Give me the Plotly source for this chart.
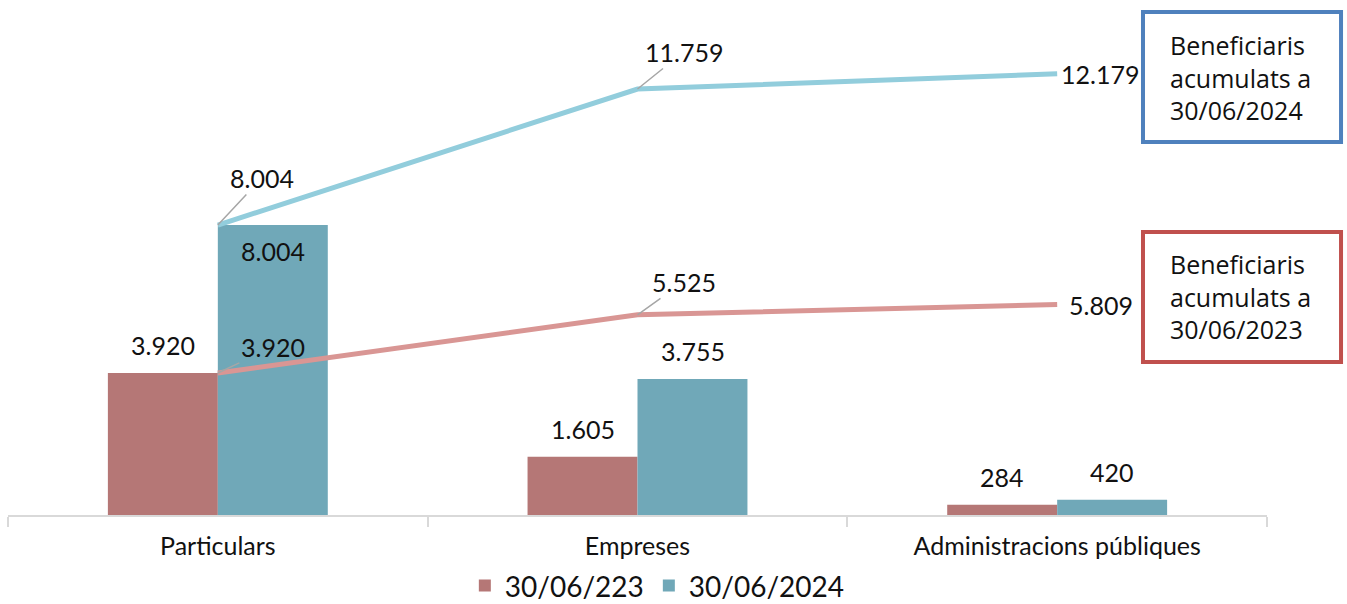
import plotly.graph_objects as go

categories = ["Particulars", "Empreses", "Administracions públiques"]
bars_2023 = [3920, 1605, 284]
bars_2024 = [8004, 3755, 420]
cum_2023 = [3920, 5525, 5809]
cum_2024 = [8004, 11759, 12179]
legend_names = ["30/06/223", "30/06/2024"]
box_texts = ["Beneficiaris<br>acumulats a<br>30/06/2024", "Beneficiaris<br>acumulats a<br>30/06/2023"]

RED_BAR = "#b57776"
BLUE_BAR = "#70a8b8"
RED_LINE = "#d99694"
BLUE_LINE = "#92cddc"
NUM_FONT = dict(family="Lato", size=25, color="#111111")


def fmt(v):
    return f"{v:,}".replace(",", ".")


fig = go.Figure()
fig.add_trace(go.Bar(x=categories, y=bars_2023, name=legend_names[0], marker=dict(color=RED_BAR, line=dict(width=0))))
fig.add_trace(go.Bar(x=categories, y=bars_2024, name=legend_names[1], marker=dict(color=BLUE_BAR, line=dict(width=0))))
fig.add_trace(go.Scatter(x=categories, y=cum_2024, mode="lines", line=dict(color=BLUE_LINE, width=5), showlegend=False, hoverinfo="skip"))
fig.add_trace(go.Scatter(x=categories, y=cum_2023, mode="lines", line=dict(color=RED_LINE, width=5), showlegend=False, hoverinfo="skip"))

ann = []
for i, c in enumerate(categories):
    ann.append(dict(x=c, y=bars_2023[i], text=fmt(bars_2023[i]), xshift=-55, yanchor="bottom", yshift=11, showarrow=False, font=NUM_FONT))
    if i == 0:
        ann.append(dict(x=c, y=bars_2024[i], text=fmt(bars_2024[i]), xshift=55, yanchor="top", yshift=-9, showarrow=False, font=NUM_FONT))
    else:
        ann.append(dict(x=c, y=bars_2024[i], text=fmt(bars_2024[i]), xshift=55, yanchor="bottom", yshift=11, showarrow=False, font=NUM_FONT))

leader = dict(showarrow=True, arrowhead=0, arrowwidth=1.5, arrowcolor="#a6a6a6", standoff=0, font=NUM_FONT)
offs_2024 = [(44, -47), (46, -37), None]
offs_2023 = [(55, -26), (46, -33), None]
for vals, offs, xs in ((cum_2024, offs_2024, 2), (cum_2023, offs_2023, 10)):
    for i, c in enumerate(categories):
        if offs[i] is None:
            ann.append(dict(x=c, y=vals[i], text=fmt(vals[i]), xanchor="left", xshift=xs, showarrow=False, font=NUM_FONT))
        else:
            ann.append(dict(x=c, y=vals[i], text=fmt(vals[i]), ax=offs[i][0], ay=offs[i][1], **leader))

BOX_FONT = dict(family="Open Sans", size=25, color="#111111")
ann.append(dict(x=0.921, y=0.867, xref="paper", yref="paper", text=box_texts[0], xanchor="left", yanchor="middle", align="left",
                showarrow=False, font=BOX_FONT))
ann.append(dict(x=0.921, y=0.4317, xref="paper", yref="paper", text=box_texts[1], xanchor="left", yanchor="middle", align="left",
                showarrow=False, font=BOX_FONT))

shapes = [
    dict(type="rect", xref="paper", yref="paper", x0=0.9015, x1=1.0588, y0=0.7386, y1=0.996, line=dict(color="#4f81bd", width=4), fillcolor="white", layer="below"),
    dict(type="rect", xref="paper", yref="paper", x0=0.9015, x1=1.0588, y0=0.303, y1=0.5604, line=dict(color="#c0504d", width=4), fillcolor="white", layer="below"),
]

fig.update_layout(
    width=1347, height=604,
    margin=dict(l=8, r=80, t=10, b=89, autoexpand=False),
    plot_bgcolor="white", paper_bgcolor="white",
    barmode="group", bargap=0.476, bargroupgap=0,
    annotations=ann, shapes=shapes,
    font=dict(family="Lato", color="#111111"),
    legend=dict(orientation="h", x=0.488, xref="container", xanchor="center", y=0.03, yref="container", yanchor="middle",
                font=dict(family="Lato", size=28, color="#111111"), itemwidth=30, traceorder="normal"),
    xaxis=dict(showline=True, linecolor="#d9d9d9", linewidth=2, ticks="outside", tickson="boundaries",
               ticklen=10, tickcolor="#d9d9d9", tickwidth=1.5, tickfont=dict(family="Lato", size=25, color="#111111"),
               ticklabelstandoff=8, showgrid=False, automargin=False),
    yaxis=dict(range=[0, 13940], visible=False, showgrid=False, zeroline=False, automargin=False),
)

fig.write_html("out.html", post_script="document.body.style.margin='0px';", config={"displayModeBar": False})
